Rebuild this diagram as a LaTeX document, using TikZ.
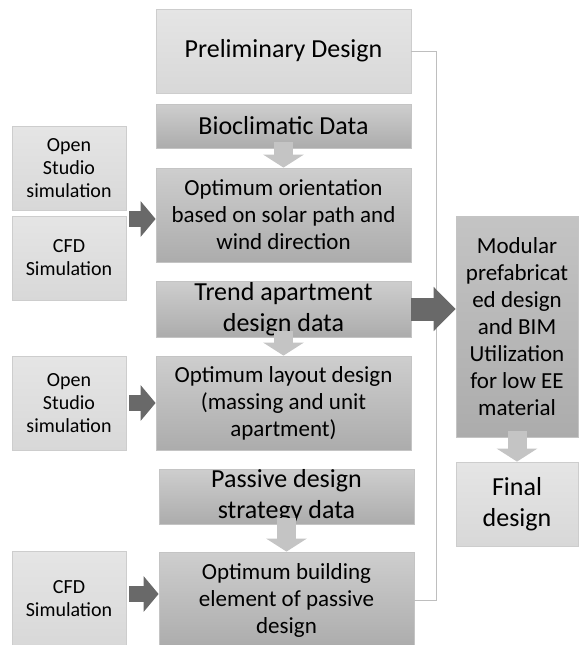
\documentclass[tikz,border=0pt]{standalone}
\usepackage{fontspec}
\setmainfont{Carlito}
\usepackage{tikz}
\usetikzlibrary{arrows.meta}
\definecolor{lightTop}{RGB}{229, 229, 229}
\definecolor{lightBot}{RGB}{216, 216, 216}
\definecolor{lightEdge}{RGB}{205, 205, 205}
\definecolor{darkTop}{RGB}{206, 206, 206}
\definecolor{darkBot}{RGB}{172, 172, 172}
\definecolor{darkEdge}{RGB}{196, 196, 196}
\definecolor{arrowLight}{RGB}{196, 196, 196}
\definecolor{arrowDark}{RGB}{105, 105, 105}
\definecolor{linkCol}{RGB}{190, 190, 190}
\tikzset{myLightBox/.style={draw=lightEdge, line width=0.8pt, top color=lightTop, bottom color=lightBot, inner sep=0pt, align=center}}
\tikzset{myDarkBox/.style={draw=darkEdge, line width=0.8pt, top color=darkTop, bottom color=darkBot, inner sep=0pt, align=center}}
\tikzset{myBigText/.style={font=\fontsize{26}{31}\selectfont}}
\tikzset{myMidText/.style={font=\fontsize{23}{27}\selectfont}}
\tikzset{mySmallText/.style={font=\fontsize{20}{23}\selectfont}}
\tikzset{myDownArrow/.style={draw=arrowLight, line width=19pt, -{Triangle[length=13pt,width=40pt,fill=arrowLight]}, shorten <=-6pt}}
\tikzset{myRightArrow/.style={draw=arrowDark, line width=16pt, -{Triangle[length=15pt,width=35pt,fill=arrowDark]}}}
\tikzset{myLinkLine/.style={draw=linkCol, line width=0.9pt}}

\begin{document}
\begin{tikzpicture}[x=1pt,y=-1pt]
	\useasboundingbox (0,0) rectangle (581,645);
	% middle column
	\node[myLightBox, myBigText, minimum width=255pt, minimum height=84pt] (prelim) at (283.5,51) {Preliminary Design};
	\node[myDarkBox, myBigText, minimum width=255pt, minimum height=44pt] (bioclim) at (283.5,126) {Bioclimatic Data};
	\node[myDarkBox, myMidText, minimum width=255pt, minimum height=94pt] (orient) at (283.5,215) {Optimum orientation\\based on solar path and\\wind direction};
	\node[myDarkBox, myBigText, minimum width=255pt, minimum height=56pt] (trend) at (283.5,309) {\raisebox{-3pt}{Trend apartment}\\\raisebox{-3pt}{design data}};
	\node[myDarkBox, myMidText, minimum width=255pt, minimum height=94pt] (layout) at (283.5,403) {Optimum layout design\\(massing and unit\\apartment)};
	\node[myDarkBox, myBigText, minimum width=255pt, minimum height=55pt] (passive) at (286.5,496.5) {Passive design\\strategy data};
	\node[myDarkBox, myMidText, minimum width=255pt, minimum height=96pt] (element) at (286.5,600) {Optimum building\\element of passive\\design};
	% left column
	\node[myLightBox, mySmallText, minimum width=114pt, minimum height=84pt] (osim1) at (69,168) {Open\\Studio\\simulation};
	\node[myLightBox, mySmallText, minimum width=114pt, minimum height=84pt] (cfd1) at (69,258) {CFD\\Simulation};
	\node[myLightBox, mySmallText, minimum width=114pt, minimum height=94pt] (osim2) at (69,403) {Open\\Studio\\simulation};
	\node[myLightBox, mySmallText, minimum width=114pt, minimum height=96pt] (cfd2) at (69,599) {CFD\\Simulation};
	% right column
	\node[myDarkBox, myMidText, minimum width=122pt, minimum height=221pt, top color=darkTop!95!black, bottom color=darkBot] (modular) at (517,326.5) {Modular\\prefabricat\\ed design\\and BIM\\Utilization\\for low EE\\material};
	\node[myLightBox, myBigText, minimum width=122pt, minimum height=84pt] (final) at (517,504) {Final\\design};

	\draw[myLinkLine] (prelim.east) -- ++(25,0) |- (element.east);

	\draw[myDownArrow] (bioclim.south) -- (orient.north);
	\draw[myDownArrow] (trend.south) -- (layout.north);
	\draw[myDownArrow] (passive.south) -- (element.north);
	\draw[myDownArrow] (modular.south) -- (final.north);

	\coordinate (simOut) at (129,219);
	\draw[myRightArrow] (simOut) -- (simOut -| orient.west);
	\draw[myRightArrow, shorten <=3pt] (osim2.east) -- (osim2.east -| layout.west);
	\draw[myRightArrow, shorten <=3pt] ([yshift=5pt]cfd2.east) -- ([yshift=5pt]cfd2.east -| element.west);
	\draw[myRightArrow, line width=23pt, -{Triangle[length=22pt,width=43pt,fill=arrowDark]}] (trend.east) -- (trend.east -| modular.west);
\end{tikzpicture}
\end{document}
